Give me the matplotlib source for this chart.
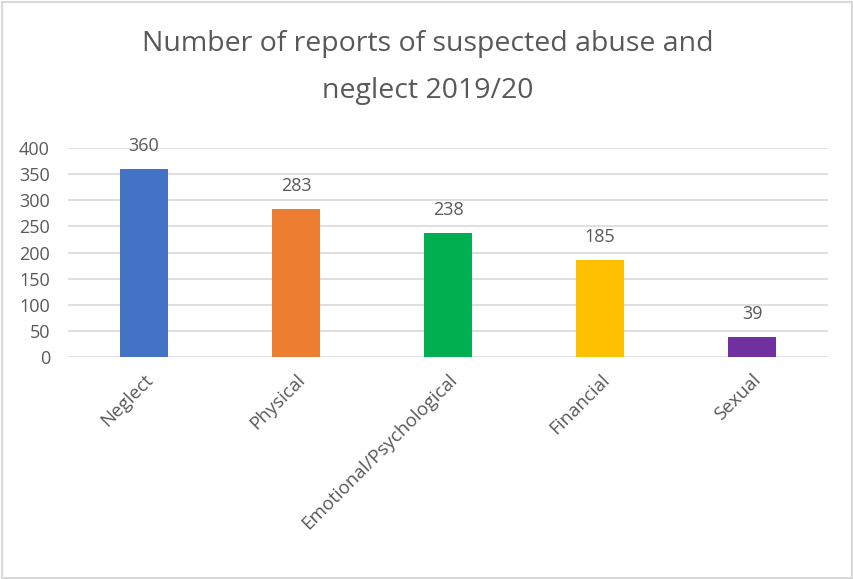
import matplotlib.pyplot as plt
from matplotlib.patches import Rectangle

categories = ['Neglect', 'Physical', 'Emotional/Psychological', 'Financial', 'Sexual']
reports = [360, 283, 238, 185, 39]
colors = ['#4472C4', '#ED7D31', '#00B050', '#FFC000', '#7030A0']

plt.rcParams['font.family'] = ['Open Sans', 'DejaVu Sans']
text_col = '#595959'

fig = plt.figure(figsize=(8.54, 5.79), dpi=100)
ax = fig.add_axes([0.0796, 0.3834, 0.89, 0.361])

x = range(len(categories))
bars = ax.bar(x, reports, width=0.32, color=colors, zorder=3)
for i, v in enumerate(reports):
    ax.annotate(str(v), (i, v), xytext=(0, 10), textcoords='offset points',
                ha='center', va='bottom', fontsize=13, color=text_col)

ax.set_xlim(-0.5, len(categories) - 0.5)
ax.set_ylim(0, 400)
ax.set_yticks(range(0, 401, 50))
ax.set_xticks(list(x))
ax.set_xticklabels(categories, rotation=45, ha='right', rotation_mode='anchor')
ax.tick_params(axis='both', length=0, labelsize=13, colors=text_col)
ax.tick_params(axis='x', labelsize=13.5, pad=10)
ax.tick_params(axis='y', pad=13)
ax.grid(axis='y', color='#D9D9D9', linewidth=1.2, zorder=0)
for s in ax.spines.values():
    s.set_visible(False)

fig.text(0.501, 0.884, 'Number of reports of suspected abuse and\nneglect 2019/20',
         ha='center', va='center', fontsize=20.5, color=text_col, linespacing=1.9)

fig.patches.append(Rectangle((0.002, 0.002), 0.996, 0.994, transform=fig.transFigure,
                             fill=False, edgecolor='#D9D9D9', linewidth=1.5))

fig.savefig('out.png', dpi=100)
